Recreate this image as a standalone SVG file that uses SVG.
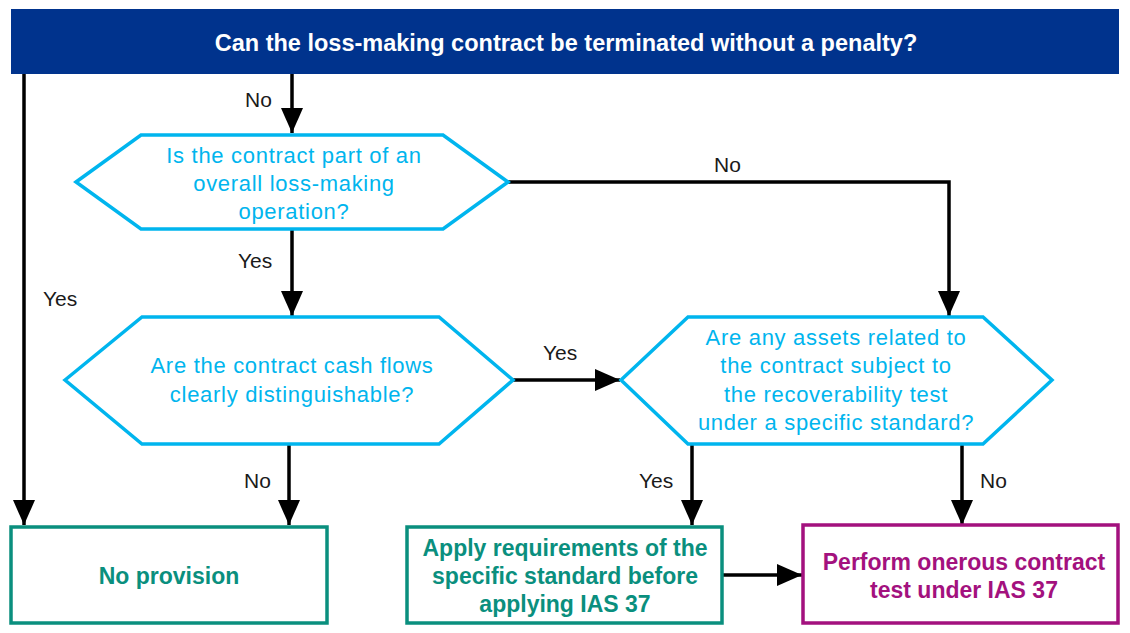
<svg xmlns="http://www.w3.org/2000/svg" width="1130" height="633" viewBox="0 0 1130 633">
<style>
.hdr{fill:#00338D}
.hdrt{font-family:"Liberation Sans",Arial,sans-serif;font-weight:bold;font-size:23.5px;fill:#fff;text-anchor:middle}
.hex{fill:#fff;stroke:#00B5EE;stroke-width:3.5}
.hext{font-family:"Liberation Sans",Arial,sans-serif;font-size:22px;letter-spacing:0.7px;fill:#00B5EE;text-anchor:middle}
.lbl{font-family:"Liberation Sans",Arial,sans-serif;font-size:21px;fill:#1a1a1a}
.conn{fill:none;stroke:#000;stroke-width:3.5}
.gbox{fill:#fff;stroke:#0A8F7E;stroke-width:3.5}
.mbox{fill:#fff;stroke:#A3117E;stroke-width:3.5}
.gt{font-family:"Liberation Sans",Arial,sans-serif;font-weight:bold;font-size:23px;fill:#0A8F7E;text-anchor:middle}
.mt{font-family:"Liberation Sans",Arial,sans-serif;font-weight:bold;font-size:23px;fill:#A3117E;text-anchor:middle}
</style>
<defs>
<marker id="ah" markerUnits="userSpaceOnUse" markerWidth="25" markerHeight="22" refX="25" refY="11" orient="auto">
<path d="M0,0 L25,11 L0,22 z" fill="#000"/>
</marker>
</defs>
<g id="header">
<rect class="hdr" x="11" y="9" width="1108" height="65"/>
<text class="hdrt" x="566" y="51">Can the loss-making contract be terminated without a penalty?</text>
</g>
<g id="connectors">
<path class="conn" d="M24,74 V525" marker-end="url(#ah)"/>
<path class="conn" d="M292,74 V133" marker-end="url(#ah)"/>
<path class="conn" d="M508,182 H949 V316" marker-end="url(#ah)"/>
<path class="conn" d="M292,229 V316" marker-end="url(#ah)"/>
<path class="conn" d="M513,380 H620" marker-end="url(#ah)"/>
<path class="conn" d="M289,444 V525" marker-end="url(#ah)"/>
<path class="conn" d="M692,444 V525" marker-end="url(#ah)"/>
<path class="conn" d="M962,444 V525" marker-end="url(#ah)"/>
<path class="conn" d="M722,575 H802" marker-end="url(#ah)"/>
<text class="lbl" x="245" y="107">No</text>
<text class="lbl" x="714" y="172">No</text>
<text class="lbl" x="238" y="268">Yes</text>
<text class="lbl" x="43" y="306">Yes</text>
<text class="lbl" x="543" y="360">Yes</text>
<text class="lbl" x="244" y="488">No</text>
<text class="lbl" x="639" y="488">Yes</text>
<text class="lbl" x="980" y="488">No</text>
</g>
<g id="q1">
<polygon class="hex" points="76,182 141,135 443,135 508,182 443,229 141,229"/>
<text class="hext" x="294" y="163">Is the contract part of an</text>
<text class="hext" x="294" y="191">overall loss-making</text>
<text class="hext" x="294" y="219">operation?</text>
</g>
<g id="q2">
<polygon class="hex" points="65,380 142,317 439,317 513,380 439,444 142,444"/>
<text class="hext" x="292" y="373">Are the contract cash flows</text>
<text class="hext" x="292" y="402">clearly distinguishable?</text>
</g>
<g id="q3">
<polygon class="hex" points="621,380 688,317 983,317 1052,380 983,444 688,444"/>
<text class="hext" x="836" y="345">Are any assets related to</text>
<text class="hext" x="836" y="373">the contract subject to</text>
<text class="hext" x="836" y="402">the recoverability test</text>
<text class="hext" x="836" y="430">under a specific standard?</text>
</g>
<g id="noprovision">
<rect class="gbox" x="11" y="527" width="316" height="96"/>
<text class="gt" x="169" y="584">No provision</text>
</g>
<g id="apply">
<rect class="gbox" x="407" y="527" width="315" height="96"/>
<text class="gt" x="565" y="556">Apply requirements of the</text>
<text class="gt" x="565" y="584">specific standard before</text>
<text class="gt" x="565" y="612">applying IAS 37</text>
</g>
<g id="perform">
<rect class="mbox" x="803" y="525" width="315" height="98"/>
<text class="mt" x="964" y="570">Perform onerous contract</text>
<text class="mt" x="964" y="598">test under IAS 37</text>
</g>
</svg>
